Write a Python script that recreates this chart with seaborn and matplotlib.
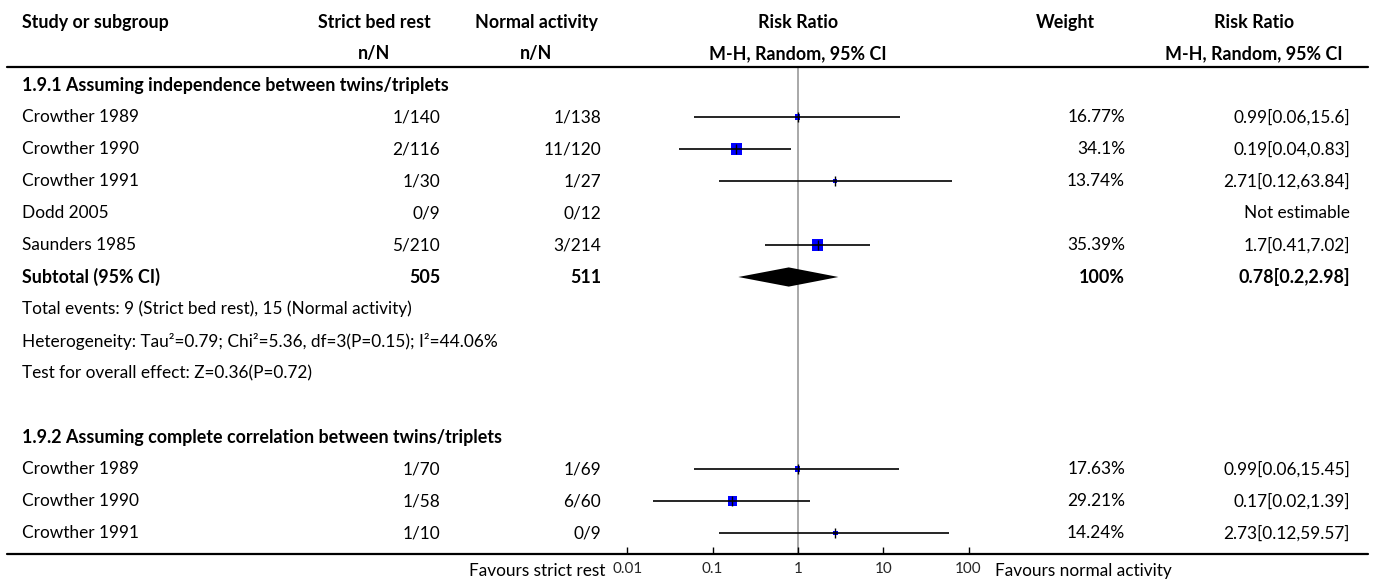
import numpy as np
import pandas as pd
import matplotlib
matplotlib.use('Agg')
import matplotlib.pyplot as plt
import matplotlib.transforms as mtransforms
from matplotlib.lines import Line2D
import seaborn as sns

# 1.9.1 Assuming independence between twins/triplets
g1_title = '1.9.1 Assuming independence between twins/triplets'
g1_study = ['Crowther 1989', 'Crowther 1990', 'Crowther 1991', 'Dodd 2005', 'Saunders 1985']
g1_bed = ['1/140', '2/116', '1/30', '0/9', '5/210']
g1_normal = ['1/138', '11/120', '1/27', '0/12', '3/214']
g1_rr = [0.99, 0.19, 2.71, np.nan, 1.7]
g1_lo = [0.06, 0.04, 0.12, np.nan, 0.41]
g1_hi = [15.6, 0.83, 63.84, np.nan, 7.02]
g1_weight = [16.77, 34.1, 13.74, np.nan, 35.39]

# subtotal for 1.9.1
sub_bed_total = 505
sub_normal_total = 511
sub_rr = 0.78
sub_lo = 0.2
sub_hi = 2.98
sub_weight = 100
sub_notes = ['Total events: 9 (Strict bed rest), 15 (Normal activity)',
             'Heterogeneity: Tau\u00b2=0.79; Chi\u00b2=5.36, df=3(P=0.15); I\u00b2=44.06%',
             'Test for overall effect: Z=0.36(P=0.72)']

# 1.9.2 Assuming complete correlation between twins/triplets
g2_title = '1.9.2 Assuming complete correlation between twins/triplets'
g2_study = ['Crowther 1989', 'Crowther 1990', 'Crowther 1991']
g2_bed = ['1/70', '1/58', '1/10']
g2_normal = ['1/69', '6/60', '0/9']
g2_rr = [0.99, 0.17, 2.73]
g2_lo = [0.06, 0.02, 0.12]
g2_hi = [15.45, 1.39, 59.57]
g2_weight = [17.63, 29.21, 14.24]

header1 = ['Strict bed rest', 'Normal activity', 'Risk Ratio', 'Weight', 'Risk Ratio']
header2 = ['n/N', 'n/N', 'M-H, Random, 95% CI', '', 'M-H, Random, 95% CI']
xticks = [0.01, 0.1, 1, 10, 100]
xtick_labels = ['0.01', '0.1', '1', '10', '100']
favours_left = 'Favours strict rest'
favours_right = 'Favours normal activity'

# row numbers (one row = one line of the table)
g1_rows = list(range(1, 1 + len(g1_study)))
sub_row = g1_rows[-1] + 1
note_rows = [sub_row + 1 + i for i in range(len(sub_notes))]
g2_title_row = note_rows[-1] + 2
g2_rows = list(range(g2_title_row + 1, g2_title_row + 1 + len(g2_study)))

df = pd.DataFrame({
    'study': g1_study + g2_study,
    'bed': g1_bed + g2_bed,
    'normal': g1_normal + g2_normal,
    'rr': g1_rr + g2_rr,
    'lo': g1_lo + g2_lo,
    'hi': g1_hi + g2_hi,
    'weight': g1_weight + g2_weight,
    'row': g1_rows + g2_rows,
})
# square side grows with the weight (pixels -> points at 100 dpi)
df['area'] = (0.33 * df['weight'] * 0.72) ** 2
est = df.dropna(subset=['rr'])

sns.set_theme(style='white')
plt.rcParams['font.family'] = ['Lato', 'DejaVu Sans']
FS = 12.4
FS_BOLD = 12.9

W, H = 1375, 583
fig = plt.figure(figsize=(W / 100, H / 100), dpi=100)


def fx(px):
    return px / W


# forest plot area
ax = fig.add_axes([fx(612), 1 - 554 / H, fx(985) - fx(612), (554 - 67) / H])
ax.set_xscale('log')
ax.set_xlim(0.0066, 156)
ax.set_ylim(14.656, -0.5625)
for s in ax.spines.values():
    s.set_visible(False)
ax.set_yticks([])
ax.set_xticks(xticks)
ax.set_xticklabels(xtick_labels, fontsize=11)
ax.minorticks_off()
ax.tick_params(axis='x', direction='in', length=5, width=1, color='black',
               pad=6, bottom=True)

ax.axvline(1, color='#a8a8a8', lw=1.4, zorder=0)

sns.scatterplot(data=est, x='rr', y='row', marker='s', color='#0000ff',
                s=est['area'], edgecolor='none', legend=False, ax=ax, zorder=2)
ax.hlines(est['row'], est['lo'], est['hi'], color='black', lw=1.2, zorder=3)
ax.scatter(est['rr'], est['row'], marker='|', s=60, color='black', lw=1, zorder=4)
ax.fill([sub_lo, sub_rr, sub_hi, sub_rr],
        [sub_row, sub_row - 0.3, sub_row, sub_row + 0.3], color='black', lw=0, zorder=3)
ax.set_xlabel('')
ax.set_ylabel('')

# table text
trans = mtransforms.blended_transform_factory(fig.transFigure, ax.transData)
col_head_x = [374, 536, 798, 1065, 1254]
col_right_x = [440, 601, 1125, 1350]
head_rows = [-1.94, -0.97]


def put(px, row, s, ha='left', bold=False, size=None):
    if size is None:
        size = FS_BOLD if bold else FS
    fig.text(fx(px), row, s, transform=trans, ha=ha, va='center',
             fontsize=size, fontweight='bold' if bold else 'normal', color='black')


put(22, head_rows[0], 'Study or subgroup', bold=True)
for x, h1, h2 in zip(col_head_x, header1, header2):
    put(x, head_rows[0], h1, ha='center', bold=True)
    if h2:
        put(x, head_rows[1], h2, ha='center', bold=True)

put(22, 0, g1_title, bold=True)
put(22, g2_title_row, g2_title, bold=True)
for _, r in df.iterrows():
    put(22, r['row'], r['study'])
    put(col_right_x[0], r['row'], r['bed'], ha='right')
    put(col_right_x[1], r['row'], r['normal'], ha='right')
    if np.isnan(r['rr']):
        put(col_right_x[3], r['row'], 'Not estimable', ha='right')
    else:
        put(col_right_x[2], r['row'], f"{r['weight']:g}%", ha='right')
        put(col_right_x[3], r['row'], f"{r['rr']:g}[{r['lo']:g},{r['hi']:g}]", ha='right')

put(22, sub_row, 'Subtotal (95% CI)', bold=True)
put(col_right_x[0], sub_row, str(sub_bed_total), ha='right', bold=True)
put(col_right_x[1], sub_row, str(sub_normal_total), ha='right', bold=True)
put(col_right_x[2], sub_row, f'{sub_weight:g}%', ha='right', bold=True)
put(col_right_x[3], sub_row, f'{sub_rr:g}[{sub_lo:g},{sub_hi:g}]', ha='right', bold=True)
for row, note in zip(note_rows, sub_notes):
    put(22, row, note)

# rules above and below the table
for yrow in [-0.5625, 14.656]:
    fig.add_artist(Line2D([fx(7), fx(1368)], [yrow, yrow], transform=trans,
                          color='black', lw=1.6))

put(605, 15.2, favours_left, ha='right')
put(995, 15.2, favours_right, ha='left')

fig.savefig('out.png', dpi=100)
